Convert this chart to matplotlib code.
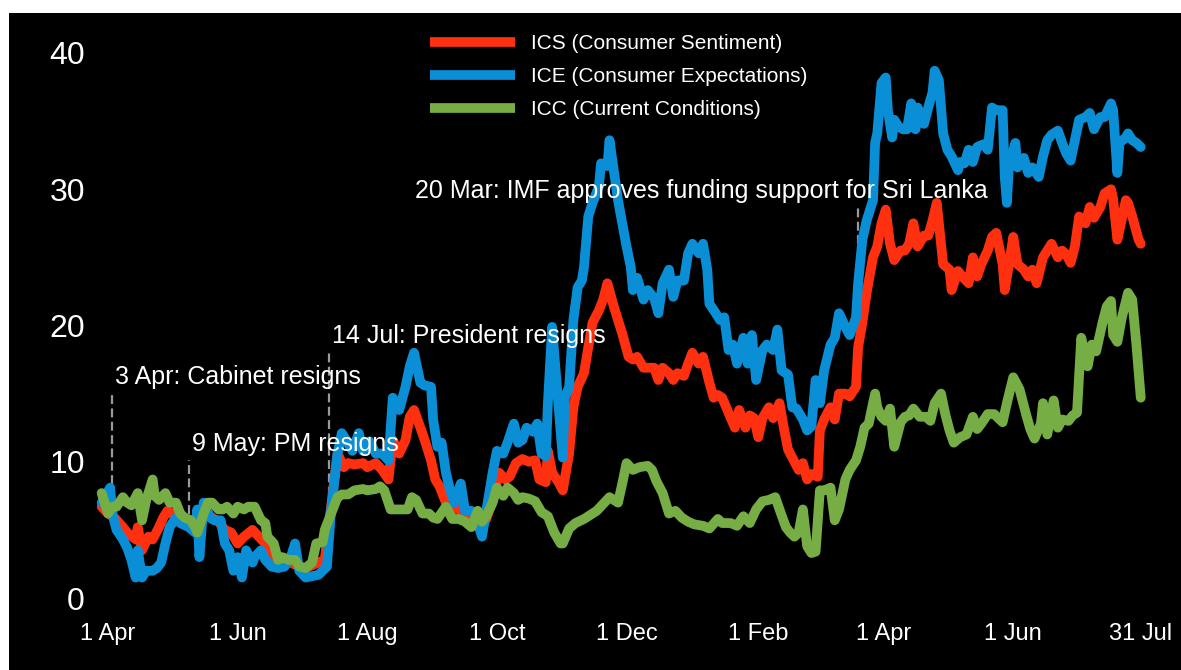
import numpy as np
import pandas as pd
import matplotlib
matplotlib.use('Agg')
import matplotlib.pyplot as plt
from matplotlib.patches import Rectangle

plt.rcParams['font.family'] = ['Liberation Sans', 'DejaVu Sans']

start = pd.Timestamp('2022-04-01')

# ---- data (day offsets from 1 Apr 2022, index values) ----
ics_days = [-3, 0, 3, 7, 9, 13, 14, 16, 19, 21, 24, 26, 28, 32, 36, 39, 42, 45, 48, 52, 55, 58,
            61, 64, 68, 71, 74, 77, 80, 83, 86, 90, 93, 96, 99, 102, 104, 106, 108, 111, 113, 116,
            120, 122, 126, 129, 132, 134, 137, 140, 142, 144, 147, 149, 152, 154, 156, 159, 162,
            165, 168, 171, 174, 176, 178, 181, 184, 187, 189, 192, 195, 198, 201, 203, 206, 207,
            209, 212, 214, 217, 219, 221, 224, 226, 228, 231, 233, 235, 238, 240, 242, 245, 247,
            249, 252, 254, 257, 259, 261, 264, 266, 268, 271, 273, 275, 278, 280, 283, 285, 287,
            289, 292, 295, 297, 300, 302, 304, 306, 308, 311, 313, 316, 318, 320, 322, 325, 327,
            329, 331, 334, 335, 337, 340, 342, 344, 347, 349, 352, 353, 355, 357, 360, 362, 364,
            366, 368, 370, 373, 375, 377, 379, 381, 384, 386, 388, 390, 392, 393, 396, 397, 400,
            402, 405, 407, 409, 411, 414, 416, 418, 421, 422, 424, 426, 428, 431, 433, 435, 437,
            440, 442, 444, 447, 449, 451, 453, 455, 457, 460, 462, 464, 467, 469, 472, 473, 475,
            476, 479, 480, 482, 485, 486]
ics_vals = [6.7, 6.2, 5.9, 5.2, 4.8, 4.3, 5.2, 3.5, 4.5, 4.3, 5.2, 5.9, 6.4, 6.0, 5.6, 5.5, 5.0,
            6.7, 6.0, 5.6, 5.0, 4.8, 4.0, 4.5, 5.0, 4.5, 4.0, 3.3, 2.8, 2.7, 2.6, 2.3, 2.2, 2.4,
            2.6, 2.8, 5.5, 8.0, 10.6, 9.6, 9.9, 9.8, 9.9, 9.6, 9.9, 9.4, 8.7, 11.6, 10.6, 11.6,
            13.3, 13.8, 12.5, 11.6, 10.1, 8.7, 8.2, 7.0, 6.5, 6.6, 6.0, 5.8, 5.6, 5.3, 5.8, 7.2,
            9.2, 8.7, 8.9, 9.9, 10.2, 10.0, 10.1, 8.7, 8.5, 10.8, 9.2, 8.5, 7.9, 10.6, 14.0, 15.5,
            16.5, 18.4, 20.2, 21.1, 21.9, 23.1, 21.4, 20.4, 19.4, 17.7, 17.5, 17.7, 16.9, 16.9,
            16.9, 16.0, 16.9, 16.5, 16.0, 16.5, 16.3, 17.2, 18.0, 17.2, 17.7, 15.8, 14.7, 14.9,
            14.7, 13.6, 12.5, 13.8, 12.5, 13.4, 13.2, 11.8, 13.2, 14.0, 13.2, 14.3, 12.5, 10.9,
            10.3, 9.4, 9.9, 8.7, 9.1, 8.9, 12.3, 13.1, 14.0, 13.1, 15.0, 15.0, 14.8, 15.5, 18.4,
            20.2, 22.4, 25.0, 25.8, 27.5, 28.5, 26.0, 24.8, 25.5, 25.5, 26.0, 27.5, 25.8, 26.6,
            26.6, 27.7, 29.0, 26.0, 24.5, 24.1, 22.6, 24.0, 23.6, 23.1, 25.0, 23.6, 24.5, 25.5,
            26.5, 26.8, 24.5, 22.6, 24.5, 26.5, 24.5, 24.1, 23.6, 24.1, 23.1, 25.0, 25.5, 26.0,
            25.0, 25.5, 25.2, 24.6, 25.8, 28.0, 27.5, 28.7, 27.9, 28.7, 29.7, 30.0, 29.3, 26.3,
            27.0, 29.2, 29.0, 28.0, 26.3, 26.0]

ice_days = [-3, 1, 2, 4, 7, 9, 11, 13, 14, 16, 18, 21, 23, 25, 27, 29, 32, 34, 38, 41, 42, 43,
            45, 48, 50, 53, 55, 57, 59, 61, 63, 65, 68, 69, 72, 74, 77, 80, 83, 86, 88, 90, 93,
            96, 99, 103, 105, 108, 110, 112, 115, 118, 120, 123, 126, 129, 132, 134, 137, 140,
            142, 144, 147, 149, 152, 153, 155, 157, 159, 161, 163, 166, 168, 171, 174, 176, 178,
            181, 183, 186, 188, 191, 193, 195, 197, 200, 202, 204, 206, 207, 209, 211, 214, 215,
            217, 219, 221, 223, 224, 226, 228, 231, 232, 235, 236, 238, 240, 242, 244, 246, 247,
            249, 252, 254, 257, 259, 261, 264, 266, 268, 271, 273, 275, 278, 280, 282, 283, 286,
            288, 290, 292, 294, 296, 299, 301, 303, 305, 308, 310, 313, 315, 317, 320, 322, 324,
            327, 329, 331, 333, 335, 337, 340, 342, 344, 347, 349, 352, 353, 355, 357, 360, 361,
            362, 364, 366, 367, 369, 370, 372, 374, 376, 378, 380, 381, 384, 386, 388, 389, 391,
            393, 395, 397, 400, 401, 403, 405, 407, 409, 412, 414, 416, 418, 421, 422, 423, 424,
            427, 428, 431, 433, 435, 438, 440, 442, 444, 447, 449, 451, 453, 455, 457, 460, 462,
            464, 467, 469, 472, 473, 475, 476, 479, 480, 482, 484, 486]
ice_vals = [7.0, 8.1, 6.2, 5.0, 4.3, 3.7, 2.8, 1.5, 3.5, 1.5, 2.0, 2.0, 2.2, 2.6, 4.0, 5.2, 5.9,
            5.5, 5.2, 4.8, 6.5, 3.0, 7.0, 5.9, 5.7, 5.7, 4.0, 3.5, 2.0, 3.0, 1.5, 3.5, 2.6, 3.0,
            3.5, 2.8, 2.3, 2.2, 2.3, 3.0, 4.0, 2.0, 1.5, 1.6, 1.7, 2.3, 6.5, 10.6, 12.1, 11.6,
            10.8, 12.1, 10.8, 11.5, 10.6, 10.6, 10.1, 14.7, 13.8, 15.5, 17.0, 18.0, 15.8, 15.6,
            15.5, 13.1, 11.1, 11.4, 9.2, 7.9, 7.0, 8.4, 6.4, 6.4, 5.5, 4.5, 6.4, 9.2, 10.8, 10.6,
            11.4, 12.8, 11.4, 11.6, 12.5, 12.2, 12.8, 10.6, 10.4, 14.3, 19.9, 16.0, 10.3, 14.7,
            15.5, 20.4, 22.8, 23.3, 24.3, 28.0, 29.0, 30.2, 31.9, 31.7, 33.6, 31.4, 29.2, 27.5,
            25.8, 24.3, 22.6, 23.5, 21.9, 22.6, 22.0, 20.9, 23.1, 24.1, 22.1, 23.3, 23.3, 25.3,
            26.0, 25.3, 26.0, 24.1, 21.6, 20.9, 20.4, 20.6, 18.2, 18.6, 17.2, 19.1, 17.2, 19.3,
            16.0, 18.2, 18.6, 18.2, 19.7, 16.7, 16.4, 14.0, 13.9, 13.1, 12.3, 12.6, 16.0, 14.3,
            16.7, 18.6, 19.1, 20.9, 19.9, 19.3, 20.6, 23.1, 26.3, 27.7, 29.2, 33.4, 34.1, 37.8,
            38.2, 35.8, 33.8, 35.1, 34.6, 34.4, 34.4, 36.3, 34.4, 36.0, 34.8, 36.0, 37.1, 38.7,
            38.0, 34.1, 32.9, 32.4, 31.4, 32.0, 31.9, 32.9, 32.0, 33.1, 33.3, 32.9, 36.0, 35.8,
            35.8, 30.9, 29.0, 31.7, 33.4, 31.6, 32.3, 31.2, 31.6, 30.9, 32.4, 33.6, 34.0, 34.3,
            33.4, 32.6, 32.1, 33.6, 35.1, 35.3, 35.6, 34.4, 35.3, 35.3, 36.3, 35.8, 31.2, 33.4,
            33.8, 34.1, 33.6, 33.4, 33.1]

icc_days = [-3, 0, 2, 4, 7, 9, 11, 14, 16, 18, 21, 22, 24, 27, 29, 32, 34, 36, 39, 41, 42, 45,
            47, 49, 52, 54, 56, 59, 61, 64, 66, 69, 72, 74, 75, 78, 80, 82, 85, 88, 90, 93, 96,
            98, 101, 102, 105, 108, 110, 113, 116, 120, 122, 126, 128, 130, 133, 135, 138, 141,
            143, 145, 148, 151, 153, 155, 159, 162, 165, 168, 171, 174, 176, 178, 181, 183, 186,
            188, 191, 193, 195, 198, 201, 204, 207, 210, 213, 214, 217, 220, 224, 227, 230, 233,
            236, 240, 242, 244, 247, 250, 254, 256, 258, 261, 264, 267, 270, 273, 276, 280, 283,
            287, 289, 293, 296, 299, 302, 305, 308, 311, 314, 316, 319, 321, 323, 325, 327, 329,
            331, 333, 335, 337, 340, 342, 344, 347, 349, 352, 354, 356, 358, 360, 361, 362, 364,
            366, 368, 370, 373, 375, 377, 379, 382, 385, 387, 389, 392, 394, 396, 398, 401, 404,
            407, 409, 411, 414, 417, 421, 423, 426, 429, 432, 434, 436, 439, 440, 442, 445, 447,
            449, 452, 454, 456, 458, 461, 463, 465, 468, 470, 472, 473, 475, 477, 480, 482, 484,
            486]
icc_vals = [7.7, 6.2, 6.7, 6.7, 7.4, 7.0, 6.8, 7.7, 5.7, 7.2, 8.7, 7.5, 7.2, 7.7, 7.0, 7.0, 6.2,
            5.9, 5.7, 5.2, 4.8, 6.2, 7.0, 7.0, 6.5, 6.5, 6.7, 6.2, 6.7, 6.5, 6.7, 6.7, 5.7, 5.5,
            4.5, 4.0, 2.8, 3.0, 2.8, 2.8, 2.3, 2.2, 2.6, 4.0, 4.1, 5.0, 6.2, 7.4, 7.6, 7.6, 7.9,
            8.0, 7.9, 8.0, 8.2, 7.9, 6.5, 6.5, 6.5, 6.5, 7.4, 7.2, 6.2, 6.2, 5.9, 5.8, 6.7, 5.8,
            5.8, 5.6, 5.2, 6.4, 5.6, 6.0, 7.0, 8.1, 7.5, 8.1, 7.7, 7.2, 7.4, 7.3, 7.1, 6.3, 6.0,
            4.8, 4.0, 4.0, 5.1, 5.5, 5.8, 6.1, 6.4, 6.9, 7.4, 7.0, 8.4, 9.9, 9.4, 9.6, 9.7, 9.4,
            8.6, 7.7, 6.2, 6.4, 5.9, 5.6, 5.4, 5.3, 5.1, 5.8, 5.5, 5.5, 5.3, 6.0, 5.5, 6.5, 7.1,
            7.2, 7.4, 6.5, 5.2, 4.8, 4.5, 4.8, 6.5, 3.8, 3.3, 3.4, 7.9, 7.9, 8.1, 5.7, 6.5, 8.7,
            9.4, 10.1, 11.1, 12.5, 12.8, 14.3, 15.0, 14.0, 13.3, 13.0, 13.9, 11.1, 12.9, 13.3,
            13.4, 13.9, 13.3, 13.3, 13.0, 14.3, 15.0, 13.5, 12.3, 11.4, 11.8, 12.0, 13.3, 12.4,
            12.8, 13.5, 13.5, 12.9, 14.3, 16.2, 15.3, 13.5, 12.4, 11.7, 12.8, 14.3, 12.0, 14.5,
            12.5, 13.1, 13.0, 13.4, 13.6, 19.1, 17.0, 18.6, 18.1, 20.2, 21.4, 21.8, 19.3, 18.8,
            20.5, 22.4, 21.9, 18.5, 14.7]

series_labels = ['ICS (Consumer Sentiment)', 'ICE (Consumer Expectations)', 'ICC (Current Conditions)']
series_colors = ['#ff3010', '#0a8fd6', '#76ad44']

tick_dates = ['2022-04-01', '2022-06-01', '2022-08-01', '2022-10-01', '2022-12-01',
              '2023-02-01', '2023-04-01', '2023-06-01', '2023-07-31']
tick_labels = ['1 Apr', '1 Jun', '1 Aug', '1 Oct', '1 Dec', '1 Feb', '1 Apr', '1 Jun', '31 Jul']
y_ticks = [0, 10, 20, 30, 40]

event_dates = ['2022-04-03', '2022-05-09', '2022-07-14', '2023-03-20']
event_labels = ['3 Apr: Cabinet resigns', '9 May: PM resigns', '14 Jul: President resigns',
                '20 Mar: IMF approves funding support for Sri Lanka']
event_line_lo = [8.4, 6.2, 6.5, 26.0]
event_line_hi = [15.0, 10.1, 18.2, 28.6]
event_text_x = ['2022-04-03', '2022-05-09', '2022-07-14', '2022-08-22']
event_text_y = [16.2, 11.3, 19.2, 29.9]

# ---- figure ----
W, H = 1181, 670
fig = plt.figure(figsize=(W / 100, H / 100), dpi=100, facecolor='white')
fig.patches.append(Rectangle((9 / W, 0), 1, (H - 13) / H, transform=fig.transFigure,
                             facecolor='black', edgecolor='none', zorder=-10))

ax_left, ax_right = 97.4 / W, 1149.25 / W
ax_bottom, ax_top = (H - 598) / H, (H - 53) / H
ax = fig.add_axes([ax_left, ax_bottom, ax_right - ax_left, ax_top - ax_bottom])
ax.set_facecolor('none')
ax.set_zorder(5)

def to_dates(days):
    return start + pd.to_timedelta(days, unit='D')

for days, vals, lab, col in zip([ics_days, ice_days, icc_days], [ics_vals, ice_vals, icc_vals],
                                series_labels, series_colors):
    ax.plot(to_dates(days), vals, color=col, lw=7, label=lab,
            solid_joinstyle='round', solid_capstyle='round', clip_on=False)

for d, lo, hi in zip(event_dates, event_line_lo, event_line_hi):
    ax.plot([pd.Timestamp(d)] * 2, [lo, hi], color='#9a9a9a', lw=1.6,
            dashes=(4, 2), zorder=1)

for tx, ty, lab in zip(event_text_x, event_text_y, event_labels):
    ax.annotate(lab, xy=(pd.Timestamp(tx), ty), xytext=(2, 0), textcoords='offset points',
                ha='left', va='center', color='white', fontsize=18, zorder=5)

ax.set_xlim(start - pd.Timedelta(days=5), start + pd.Timedelta(days=490))
ax.set_ylim(0, 40)
ax.set_xticks([pd.Timestamp(t) for t in tick_dates])
ax.set_xticklabels(tick_labels)
ax.set_yticks(y_ticks)
ax.tick_params(axis='x', length=0, pad=18, labelsize=17, labelcolor='white')
ax.tick_params(axis='y', length=0, pad=9, labelsize=23, labelcolor='white')
for s in ax.spines.values():
    s.set_visible(False)

leg = ax.legend(loc='upper left', bbox_to_anchor=(430 / W, 1 - 34 / H),
                bbox_transform=fig.transFigure, frameon=False, fontsize=15,
                handlelength=4.1, handletextpad=0.75, labelspacing=0.68,
                borderpad=0, borderaxespad=0)
for t in leg.get_texts():
    t.set_color('white')
for l in leg.get_lines():
    l.set_linewidth(7)
    l.set_solid_capstyle('butt')

fig.savefig('out.png', dpi=100, facecolor='white')
